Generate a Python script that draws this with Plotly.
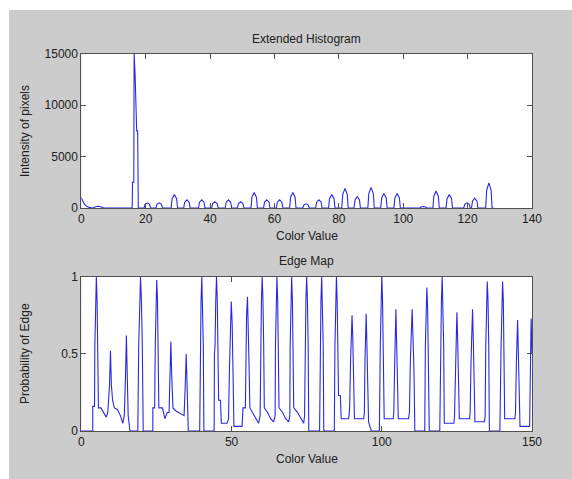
import plotly.graph_objects as go

# ---- Extended Histogram data (color value vs intensity) ----
hist_x = [0, 0.4, 0.9, 1.5, 2.2, 3.0, 3.5, 4.3, 5.0, 5.8, 6.5, 7.0,
          15.8, 15.9, 16.3, 16.4, 16.7, 17.0, 17.2, 17.5, 17.7,
          19.5, 19.8, 20.5, 21.2, 21.5,
          23.2, 23.5, 24.2, 24.9, 25.2,
          27.9, 28.2, 28.9, 29.6, 29.9,
          31.8, 32.1, 32.8, 33.5, 33.8,
          36.4, 36.7, 37.4, 38.1, 38.4,
          40.5, 40.8, 41.5, 42.2, 42.5,
          44.7, 45.0, 45.7, 46.4, 46.7,
          48.5, 48.8, 49.5, 50.2, 50.5,
          52.7, 53.0, 53.7, 54.4, 54.7,
          56.6, 56.9, 57.6, 58.3, 58.6,
          60.6, 60.9, 61.6, 62.3, 62.6,
          64.7, 65.0, 65.7, 66.4, 66.7,
          68.8, 69.1, 69.8, 70.5, 70.8,
          72.8, 73.1, 73.8, 74.5, 74.8,
          76.8, 77.1, 77.8, 78.5, 78.8,
          80.9, 81.2, 81.9, 82.6, 82.9,
          84.7, 85.0, 85.7, 86.4, 86.7,
          89.0, 89.3, 90.0, 90.7, 91.0,
          93.0, 93.3, 94.0, 94.7, 95.0,
          97.1, 97.4, 98.1, 98.8, 99.1,
          105.2, 105.5, 106.2, 106.9, 107.2,
          109.2, 109.5, 110.2, 110.9, 111.2,
          113.3, 113.6, 114.3, 115.0, 115.3,
          118.8, 119.1, 119.8, 120.5, 120.8,
          121.2, 121.5, 122.2, 122.9, 123.2,
          125.6, 125.9, 126.6, 127.3, 127.6, 128.0]
hist_y = [1000, 700, 400, 200, 80, 30, 0, 100, 170, 150, 60, 0,
          0, 2500, 2500, 15000, 13000, 8000, 7500, 7500, 0,
          0, 350, 500, 350, 0,
          0, 350, 500, 350, 0,
          0, 910, 1300, 910, 0,
          0, 560, 800, 560, 0,
          0, 560, 800, 560, 0,
          0, 420, 600, 420, 0,
          0, 560, 800, 560, 0,
          0, 420, 600, 420, 0,
          0, 1050, 1500, 1050, 0,
          0, 560, 800, 560, 0,
          0, 560, 800, 560, 0,
          0, 1050, 1500, 1050, 0,
          0, 280, 400, 280, 0,
          0, 560, 800, 560, 0,
          0, 910, 1300, 910, 0,
          0, 1330, 1900, 1330, 0,
          0, 770, 1100, 770, 0,
          0, 1400, 2000, 1400, 0,
          0, 980, 1400, 980, 0,
          0, 980, 1400, 980, 0,
          0, 100, 150, 100, 0,
          0, 1150, 1650, 1150, 0,
          0, 910, 1300, 910, 0,
          0, 350, 500, 350, 0,
          0, 660, 950, 660, 0,
          0, 1700, 2450, 1700, 0, 0]

# ---- Edge Map data (color value vs probability of edge) ----
edge_x = [0, 3.8, 3.8, 4.4,
          4.5, 4.75, 5.0, 5.25, 5.5, 5.7, 6.5, 7.5, 8.3, 8.8,
          9.4, 9.7, 10.0, 10.4, 11.0, 12.0, 13.0, 13.8, 14.3,
          14.7, 15.0, 15.3, 15.6, 16.2, 18.8,
          19.1, 19.4, 19.7, 20.0, 20.3, 20.6, 23.8, 23.8, 24.4,
          24.6, 24.85, 25.1, 25.35, 25.6, 25.8, 27.0, 27.8, 28.6, 29.2,
          29.5, 29.8, 30.1, 30.5, 31.5, 32.5, 33.5, 34.2,
          34.6, 34.9, 35.2, 35.6, 39.4,
          39.6, 39.85, 40.1, 40.35, 40.6, 40.8, 44.2, 44.3,
          44.5, 44.75, 45.0, 45.25, 45.5, 45.7, 46.3, 46.6, 48.5, 49.0,
          49.3, 49.6, 49.9, 50.2, 50.5, 50.8, 53.5, 53.8, 54.6,
          54.8, 55.0, 55.3, 55.6, 55.8, 56.1, 57.0, 58.0, 59.0, 59.5,
          59.7, 59.95, 60.2, 60.45, 60.7, 60.9, 62.0, 63.0, 64.0, 64.5,
          64.6, 64.85, 65.1, 65.35, 65.6, 65.8, 67.0, 68.0, 69.0, 69.4,
          69.5, 69.75, 70.0, 70.25, 70.5, 70.7, 72.0, 73.0, 74.0, 74.3,
          74.5, 74.75, 75.0, 75.25, 75.5, 75.7, 79.3,
          79.5, 79.75, 80.0, 80.25, 80.5, 80.7, 84.2,
          84.4, 84.65, 84.9, 85.15, 85.4, 85.6, 86.2, 86.5, 89.0, 89.3,
          89.6, 89.85, 90.1, 90.35, 90.6, 90.9, 94.0, 94.2,
          94.4, 94.6, 94.8, 95.0, 95.3, 95.6, 96.5, 99.2,
          99.5, 99.75, 100.0, 100.25, 100.5, 100.8, 103.8, 104.0,
          104.3, 104.5, 104.7, 104.9, 105.2, 105.5, 108.9, 109.2,
          109.5, 109.8, 110.1, 110.4, 110.7, 111.0, 114.3,
          114.5, 114.75, 115.0, 115.25, 115.5, 115.8, 119.3,
          119.6, 119.85, 120.1, 120.35, 120.6, 120.8, 124.0, 124.2,
          124.5, 124.75, 125.0, 125.25, 125.5, 125.8, 129.2, 129.4,
          129.7, 129.95, 130.2, 130.45, 130.7, 131.0, 134.2, 134.4,
          134.6, 134.85, 135.1, 135.35, 135.6, 135.8, 139.3,
          139.7, 139.95, 140.2, 140.45, 140.7, 140.9, 144.3, 144.5,
          144.8, 145.0, 145.2, 145.4, 145.7, 146.0, 149.2, 149.4,
          149.7, 150.0]
edge_y = [0, 0, 0.16, 0.16,
          0.55, 0.85, 1.0, 0.85, 0.55, 0.15, 0.15, 0.12, 0.09, 0.12,
          0.3, 0.52, 0.3, 0.2, 0.15, 0.14, 0.1, 0.05, 0.1,
          0.35, 0.62, 0.35, 0.1, 0, 0,
          0.55, 0.85, 1.0, 0.85, 0.55, 0, 0, 0.15, 0.15,
          0.55, 0.85, 0.98, 0.85, 0.55, 0.15, 0.15, 0.08, 0.12, 0.12,
          0.35, 0.58, 0.35, 0.15, 0.13, 0.12, 0.11, 0.1,
          0.3, 0.5, 0.3, 0, 0,
          0.55, 0.85, 1.0, 0.85, 0.55, 0, 0, 0.5,
          0.55, 0.85, 1.0, 0.85, 0.55, 0.2, 0.2, 0.05, 0.05, 0.08,
          0.4, 0.7, 0.84, 0.7, 0.4, 0.03, 0.03, 0.15, 0.15,
          0.55, 0.75, 0.87, 0.7, 0.45, 0.15, 0.12, 0.08, 0.05, 0.1,
          0.55, 0.85, 1.0, 0.85, 0.55, 0.15, 0.12, 0.08, 0.06, 0.1,
          0.55, 0.85, 1.0, 0.85, 0.55, 0.15, 0.12, 0.08, 0.06, 0.1,
          0.55, 0.85, 1.0, 0.85, 0.55, 0.15, 0.12, 0.08, 0.05, 0.1,
          0.55, 0.85, 1.0, 0.85, 0.55, 0, 0,
          0.55, 0.85, 1.0, 0.85, 0.55, 0, 0,
          0.55, 0.85, 1.0, 0.85, 0.55, 0.23, 0.23, 0.08, 0.08, 0.15,
          0.45, 0.62, 0.75, 0.6, 0.4, 0.08, 0.08, 0.12,
          0.45, 0.62, 0.76, 0.6, 0.4, 0.06, 0, 0,
          0.55, 0.85, 1.0, 0.85, 0.55, 0.08, 0.08, 0.12,
          0.45, 0.62, 0.79, 0.6, 0.4, 0.08, 0.08, 0.12,
          0.45, 0.62, 0.79, 0.6, 0.4, 0, 0,
          0.55, 0.8, 0.93, 0.8, 0.5, 0, 0,
          0.55, 0.85, 1.0, 0.85, 0.55, 0.05, 0.05, 0.1,
          0.45, 0.62, 0.77, 0.6, 0.4, 0.08, 0.08, 0.12,
          0.45, 0.62, 0.79, 0.6, 0.4, 0.06, 0.06, 0.1,
          0.55, 0.85, 0.97, 0.85, 0.55, 0, 0,
          0.55, 0.85, 0.97, 0.85, 0.55, 0.08, 0.08, 0.12,
          0.45, 0.6, 0.72, 0.55, 0.35, 0.03, 0.03, 0.4,
          0.73, 0.5]

hist_xticks = [0, 20, 40, 60, 80, 100, 120, 140]
hist_yticks = [0, 5000, 10000, 15000]
hist_ytick_labels = ["0", "5000", "10000", "15000"]
edge_xticks = [0, 50, 100, 150]
edge_yticks = [0, 0.5, 1]
edge_ytick_labels = ["0", "0.5", "1"]

# The page body keeps its default 8px margin, so the figure is sized to fit
# exactly inside a 572x479 window; positions below are given in window pixels.
OFF = 8
W, H = 572 - 2 * OFF, 479 - 2 * OFF
LINE = "rgb(40,40,230)"
FONT = "Liberation Sans, Arial, sans-serif"
TXT = "#202020"
GRAY = "#cccccc"

fig = go.Figure()
fig.add_trace(go.Scatter(x=hist_x, y=hist_y, mode="lines",
                         line=dict(color=LINE, width=1.1), xaxis="x", yaxis="y",
                         showlegend=False, hoverinfo="skip"))
fig.add_trace(go.Scatter(x=edge_x, y=edge_y, mode="lines",
                         line=dict(color=LINE, width=1.1), xaxis="x2", yaxis="y2",
                         showlegend=False, hoverinfo="skip"))

def px_x(v):
    return (v - OFF) / W

def px_y(v):
    return 1 - (v - OFF) / H

axis_common = dict(showline=True, linecolor="#505050", linewidth=1, mirror="allticks",
                   ticks="inside", ticklen=5, tickcolor="#505050", showgrid=False,
                   zeroline=False, tickfont=dict(family=FONT, size=12, color=TXT),
                   fixedrange=True)

ann_font = dict(family=FONT, size=12, color=TXT)

def label(text, x, y, angle=0):
    return dict(text=text, x=px_x(x), y=px_y(y), xref="paper", yref="paper",
                xanchor="center", yanchor="middle", showarrow=False,
                textangle=angle, font=ann_font)

fig.update_layout(
    width=W, height=H,
    margin=dict(l=0, r=0, t=0, b=0),
    paper_bgcolor=GRAY,
    plot_bgcolor="white",
    xaxis=dict(domain=[px_x(80), px_x(541.5)], range=[0, 140], tickvals=hist_xticks,
               anchor="y", **axis_common),
    yaxis=dict(domain=[px_y(207), px_y(48)], range=[0, 15000], tickvals=hist_yticks,
               ticktext=hist_ytick_labels, anchor="x", **axis_common),
    xaxis2=dict(domain=[px_x(80), px_x(541.5)], range=[0, 150], tickvals=edge_xticks,
                anchor="y2", **axis_common),
    yaxis2=dict(domain=[px_y(437), px_y(278)], range=[0, 1], tickvals=edge_yticks,
                ticktext=edge_ytick_labels, anchor="x2", **axis_common),
    annotations=[
        label("Extended Histogram", 311, 33),
        label("Color Value", 311, 236),
        label("Intensity of pixels", 23, 128, -90),
        label("Edge Map", 311, 262),
        label("Color Value", 311, 466),
        label("Probability of Edge", 23, 357, -90),
    ],
)

# Page outside the figure: gray, with a white strip along the left (9px) and
# top (10px) window edges, as in the reference frame.
bg_js = (
    "document.documentElement.style.background='#cccccc';"
    "document.body.style.background='#cccccc';"
    "var sL=document.createElement('div');"
    "sL.style.cssText='position:fixed;left:0;top:0;width:9px;height:100%;background:#ffffff;z-index:9999;';"
    "document.body.appendChild(sL);"
    "var sT=document.createElement('div');"
    "sT.style.cssText='position:fixed;left:0;top:0;width:100%;height:10px;background:#ffffff;z-index:9999;';"
    "document.body.appendChild(sT);"
)

fig.write_html("out.html", config={"displayModeBar": False}, post_script=bg_js)
